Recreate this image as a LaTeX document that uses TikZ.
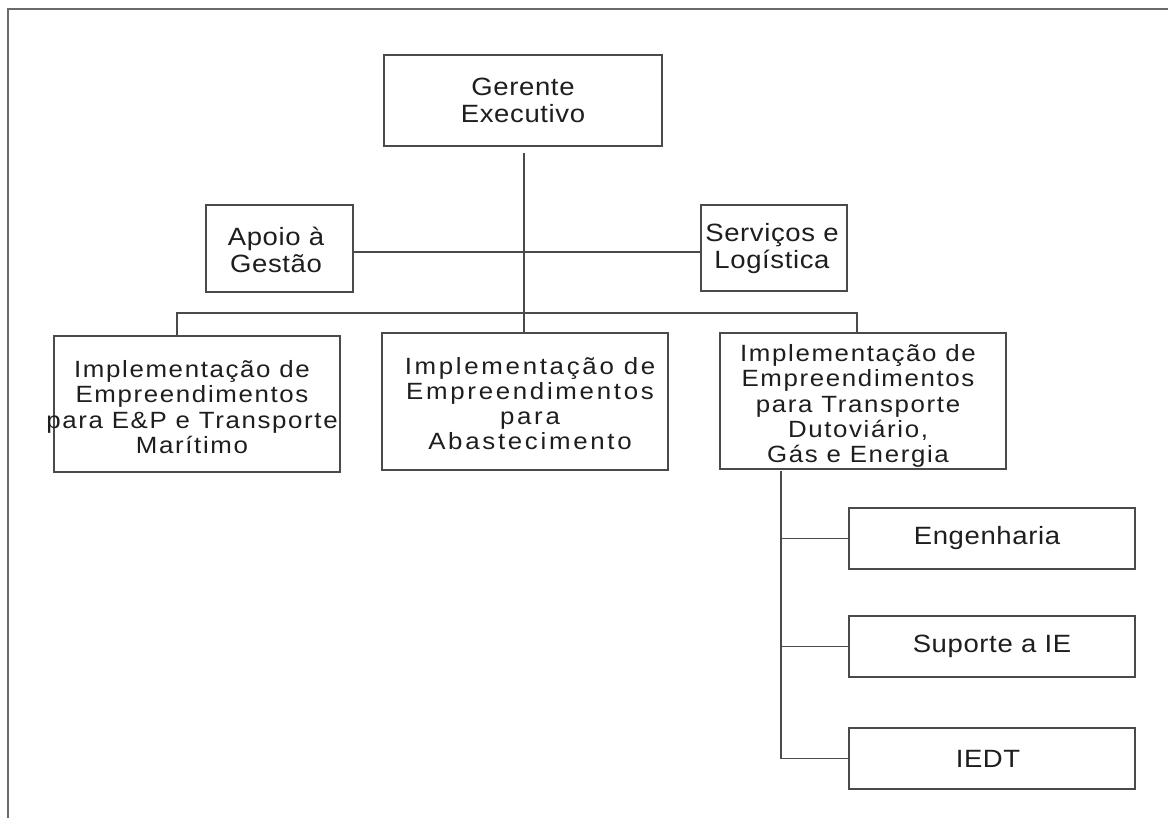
\documentclass[tikz,border=0pt]{standalone}
\usepackage{fontspec}
\setmainfont{Liberation Sans}
\newfontfamily\unitfont[FakeStretch=1.1,LetterSpace=2.5]{Liberation Sans}
\newfontfamily\widefont[FakeStretch=1.1,LetterSpace=7]{Liberation Sans}
\newfontfamily\widerfont[FakeStretch=1.1,LetterSpace=11.5]{Liberation Sans}
\definecolor{ink}{HTML}{1E1E1E}
\definecolor{rule}{HTML}{4A4A4A}
\definecolor{frame}{HTML}{6A6A6A}
\begin{document}
\begin{tikzpicture}[x=1pt,y=-1pt,
  orgbox/.style={draw=rule, line width=1.3pt, fill=white, inner sep=0pt},
  unittext/.style={inner sep=0pt, align=center, text=ink,
    font=\unitfont\fontsize{25}{27}\selectfont},
  widetext/.style={inner sep=0pt, align=center, text=ink,
    font=\widefont\fontsize{23.5}{25.3}\selectfont},
  widertext/.style={inner sep=0pt, align=center, text=ink,
    font=\widerfont\fontsize{23.5}{25}\selectfont},
  link/.style={draw=rule, line width=1.2pt},
  border/.style={draw=frame, line width=2pt}]
\useasboundingbox (0,0) rectangle (1168,818);
\fill[white] (0,0) rectangle (1168,818);

% page border: top and left edges
\coordinate (fTL) at (8,9.5);
\coordinate (fTR) at (1168,9.5);
\coordinate (fBL) at (8,818);
\draw[border] (fTR) -- (fTL) -- (fBL);

% top level
\node[orgbox, minimum width=278pt, minimum height=91pt] (ger) at (523,100.5) {};
\node[unittext] (gerT) at (523,100.5) {Gerente\\ Executivo};

% staff units
\node[orgbox, minimum width=147pt, minimum height=87pt] (apo) at (279.5,248.5) {};
\node[unittext] (apoT) at (276,249.5) {Apoio à\\Gestão};
\node[orgbox, minimum width=146pt, minimum height=86pt] (ser) at (774,248) {};
\node[unittext] (serT) at (772,249) {Serviços e\\Logística};

% line units
\node[orgbox, minimum width=286pt, minimum height=136pt] (ep) at (197,404) {};
\node[widetext] (epT) at (192,407) {Implementação de\\Empreendimentos\\para E\&P e Transporte\\Marítimo};
\node[orgbox, minimum width=286pt, minimum height=137pt] (ab) at (525,401.5) {};
\node[widertext] (abT) at (530,404) {Implementação de\\Empreendimentos\\para\\Abastecimento};
\node[orgbox, minimum width=286pt, minimum height=136pt] (dt) at (863,401) {};
\node[widetext] (dtT) at (858,406) {Implementação de\\Empreendimentos\\para Transporte\\Dutoviário,\\Gás e Energia};

% sub-units
\node[orgbox, minimum width=286pt, minimum height=61pt] (eng) at (992,538.5) {};
\node[unittext] (engT) at (987,538.5) {Engenharia};
\node[orgbox, minimum width=286pt, minimum height=61pt] (sup) at (992,646.5) {};
\node[unittext] (supT) at (992,646.5) {Suporte a IE};
\node[orgbox, minimum width=286pt, minimum height=61pt] (ied) at (992,758.5) {};
\node[unittext] (iedT) at (988,758.5) {IEDT};

% connectors
\coordinate (trunk) at (524,153);
\coordinate (busL) at (177,313);
\coordinate (busR) at (857,313);
\coordinate (subV) at (781,471);
\draw[link] (trunk) -- (trunk |- ab.north);
\draw[link] ([yshift=-3.5pt]apo.east) -- ([yshift=-4pt]ser.west);
\draw[link] (busL |- ep.north) -- (busL) -- (busR) -- (busR |- dt.north);
\draw[link] (subV) -- (subV |- ied.west) -- (ied.west);
\draw[link] (subV |- eng.west) -- (eng.west);
\draw[link] (subV |- sup.west) -- (sup.west);
\end{tikzpicture}
\end{document}
